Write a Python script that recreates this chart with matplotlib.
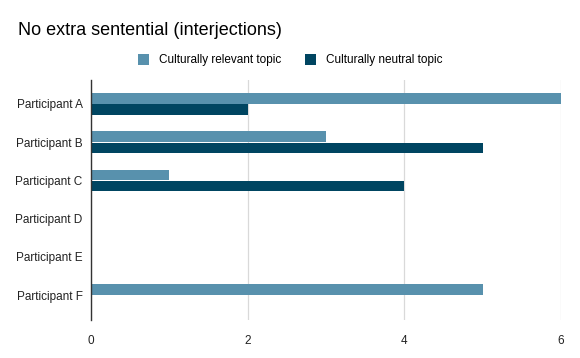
import numpy as np
import matplotlib.pyplot as plt

plt.rcParams['font.family'] = ['Liberation Sans', 'DejaVu Sans']

participants = ['Participant A', 'Participant B', 'Participant C',
                'Participant D', 'Participant E', 'Participant F']
relevant = [6, 3, 1, 0, 0, 5]
neutral = [2, 5, 4, 0, 0, 0]
series_names = ['Culturally relevant topic', 'Culturally neutral topic']
colors = ['#5891ad', '#004561']
xticks = [0, 2, 4, 6]

fig = plt.figure(figsize=(5.8, 3.58), dpi=100)
ax = fig.add_axes([0.157, 0.106, 0.81, 0.671])

y = np.arange(len(participants))
h = 0.27
ax.barh(y - h / 2 - 0.01, relevant, height=h, color=colors[0], label=series_names[0], zorder=3)
ax.barh(y + h / 2 + 0.01, neutral, height=h, color=colors[1], label=series_names[1], zorder=3)

ax.set_xlim(0, 6)
ax.set_ylim(5.65, -0.63)
ax.set_yticks(y)
ax.set_yticklabels(participants, fontsize=8.5, color='#222222')
ax.set_xticks(xticks)
ax.set_xticklabels([str(t) for t in xticks], fontsize=8.5, color='#222222')
ax.tick_params(axis='y', length=0, pad=6)
ax.tick_params(axis='x', length=0, pad=11)
ax.grid(axis='x', color='#d9d9d9', linewidth=0.9, zorder=0)
for s in ['top', 'right', 'bottom']:
    ax.spines[s].set_visible(False)
ax.spines['left'].set_color('#333333')
ax.spines['left'].set_linewidth(1)
ax.spines['left'].set_zorder(4)

fig.text(0.031, 0.915, 'No extra sentential (interjections)', fontsize=13, color='#000000', va='center')
fig.legend(loc='center', bbox_to_anchor=(0.5, 0.832), ncol=2, frameon=False, fontsize=8.5,
           handlelength=1.0, handleheight=1.0, handletextpad=0.8, columnspacing=2.0)

fig.savefig('out.png', dpi=100)
